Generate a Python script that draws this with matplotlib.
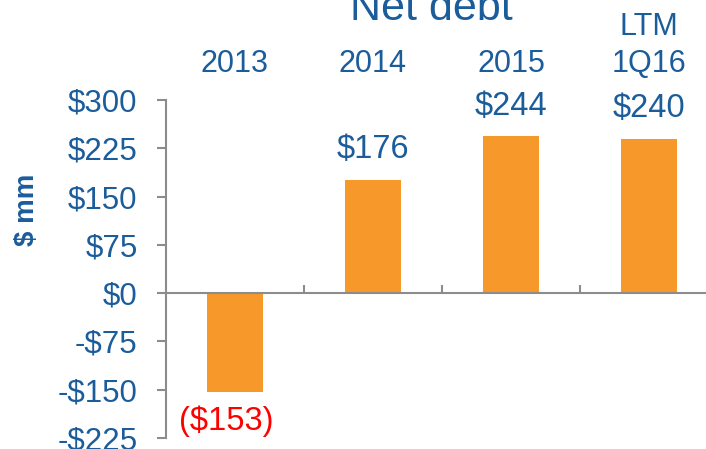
import numpy as np
import matplotlib.pyplot as plt

plt.rcParams['font.family'] = ['Liberation Sans', 'DejaVu Sans']

# data
categories = ["2013", "2014", "2015", "LTM\n1Q16"]
net_debt = [-153, 176, 244, 240]
value_labels = ["($153)", "$176", "$244", "$240"]
yticks = [-225, -150, -75, 0, 75, 150, 225, 300]
ytick_labels = ["-$225", "-$150", "-$75", "$0", "$75", "$150", "$225", "$300"]

blue = "#1B5C9A"
orange = "#F7982A"
grey = "#8C8C8C"

fig = plt.figure(figsize=(7.06, 4.49), dpi=100)
W, H = 706, 449
ax = fig.add_axes([166 / W, 11 / H, 552 / W, 338 / H])

x = np.arange(len(categories))
ax.bar(x, net_debt, width=0.4, color=orange, zorder=2)

ax.set_xlim(-0.5, 3.5)
ax.set_ylim(-225, 300)

# axes styling
for s in ["top", "right"]:
    ax.spines[s].set_visible(False)
ax.spines["left"].set_color(grey)
ax.spines["left"].set_linewidth(1.5)
ax.spines["bottom"].set_position(("data", 0))
ax.spines["bottom"].set_color(grey)
ax.spines["bottom"].set_linewidth(1.5)

ax.set_yticks(yticks)
ax.set_yticklabels(ytick_labels)
ax.tick_params(axis="y", direction="out", length=6.5, width=1.5, color=grey,
               labelsize=22.5, labelcolor=blue, pad=14)
ax.set_xticks([0.5, 1.5, 2.5])
ax.set_xticklabels([])
ax.tick_params(axis="x", direction="in", length=6, width=1.5, color=grey)

ax.set_ylabel("$ mm", fontsize=20, fontweight="bold", color=blue)
ax.yaxis.set_label_coords(-0.228, 0.675)

# category labels above the plot
for i, c in enumerate(categories):
    ax.text(i, 343, c, ha="center", va="baseline", fontsize=22,
            color=blue, clip_on=False, linespacing=1.3)

# value labels
for i, (v, lab) in enumerate(zip(net_debt, value_labels)):
    off = 21.5 if v >= 0 else -21.5
    dx = 0 if v >= 0 else -6
    ax.annotate(lab, (i, v), xytext=(dx, off), textcoords="offset points",
                ha="center", va="center", fontsize=23.5,
                color=blue if v >= 0 else "#FF0000", annotation_clip=False)

fig.text(431 / W, 1 - 20 / H, "Net debt", ha="center", va="baseline",
         fontsize=31, color=blue)

fig.savefig("out.png", dpi=100)
